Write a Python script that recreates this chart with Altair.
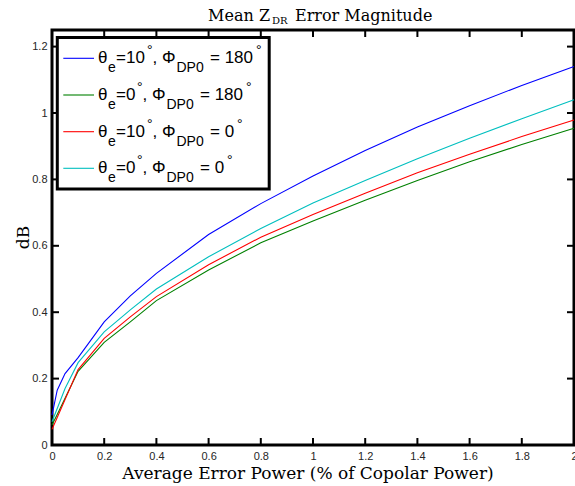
import altair as alt
import pandas as pd

# ---------------- data ----------------
x_vals = [0, 0.02, 0.05, 0.1, 0.2, 0.3, 0.4, 0.6, 0.8, 1.0, 1.2, 1.4, 1.6, 1.8, 2.0]
blue_vals = [0.090, 0.165, 0.215, 0.263, 0.371, 0.449, 0.517, 0.634, 0.727, 0.810, 0.887, 0.958, 1.022, 1.083, 1.140]
green_vals = [0.060, 0.092, 0.141, 0.222, 0.309, 0.371, 0.435, 0.527, 0.609, 0.675, 0.737, 0.797, 0.853, 0.905, 0.954]
red_vals = [0.047, 0.083, 0.137, 0.227, 0.321, 0.386, 0.447, 0.543, 0.626, 0.694, 0.758, 0.820, 0.876, 0.929, 0.979]
cyan_vals = [0.070, 0.110, 0.170, 0.248, 0.341, 0.407, 0.470, 0.567, 0.652, 0.729, 0.797, 0.862, 0.924, 0.983, 1.040]

series_names = ["te10_p180", "te0_p180", "te10_p0", "te0_p0"]
series_colors = ["#0000ff", "#008000", "#ff0000", "#00bfbf"]
series_values = [blue_vals, green_vals, red_vals, cyan_vals]

x_ticks = [0, 0.2, 0.4, 0.6, 0.8, 1.0, 1.2, 1.4, 1.6, 1.8, 2.0]
y_ticks = [0, 0.2, 0.4, 0.6, 0.8, 1.0, 1.2]

# legend texts: (theta value, phi value)
legend_theta = ["=10", "=0", "=10", "=0"]
legend_phi = ["= 180", "= 180", "= 0", "= 0"]

title_main = "Mean Z"
title_sub = "DR"
title_rest = "Error Magnitude"
x_title = "Average Error Power (% of Copolar Power)"
y_title = "dB"

# ---------------- layout ----------------
W, H = 522, 415
PL, PT = 52, 30
SANS = "Liberation Sans"
SERIF = "DejaVu Serif"

rows = []
for name, vals in zip(series_names, series_values):
    for xv, yv in zip(x_vals, vals):
        rows.append({"x": xv, "y": yv, "s": name})
df = pd.DataFrame(rows)

xs = alt.Scale(domain=[0, 2], nice=False, zero=False)
ys = alt.Scale(domain=[0, 1.25], nice=False, zero=False)

ax_common = dict(format="~g", title=None, domain=False, ticks=False, tickSize=0, grid=False,
                 labelPadding=5, labelFont=SANS, labelFontSize=11, labelColor="#262626",
                 labelFlush=False, labelOverlap=False)
axX = alt.Axis(values=x_ticks, **ax_common)
axY = alt.Axis(values=y_ticks, **ax_common)

lines = alt.Chart(df).mark_line(strokeWidth=1.1).encode(
    x=alt.X("x:Q", scale=xs, axis=axX),
    y=alt.Y("y:Q", scale=ys, axis=axY),
    color=alt.Color("s:N", scale=alt.Scale(domain=series_names, range=series_colors), legend=None),
    detail="s:N",
    order=alt.Order("x:Q"),
)

xt = pd.DataFrame({"t": x_ticks})
yt = pd.DataFrame({"t": y_ticks})
TL = 7
tick_layers = [
    alt.Chart(xt).mark_rule(color="black", strokeWidth=2).encode(
        x=alt.X("t:Q", scale=xs, axis=axX), y=alt.value(H), y2=alt.value(H - TL)),
    alt.Chart(xt).mark_rule(color="black", strokeWidth=2).encode(
        x=alt.X("t:Q", scale=xs, axis=axX), y=alt.value(0), y2=alt.value(TL)),
    alt.Chart(yt).mark_rule(color="black", strokeWidth=2).encode(
        y=alt.Y("t:Q", scale=ys, axis=axY), x=alt.value(0), x2=alt.value(TL)),
    alt.Chart(yt).mark_rule(color="black", strokeWidth=2).encode(
        y=alt.Y("t:Q", scale=ys, axis=axY), x=alt.value(W), x2=alt.value(W - TL)),
]

one = pd.DataFrame({"a": [0]})

def txt(text, x, y, size, font=SANS, align="left", angle=0, color="black"):
    kw = dict(font=font, fontSize=size, align=align, baseline="alphabetic", color=color)
    if angle:
        kw["angle"] = angle
    return alt.Chart(one).mark_text(**kw).encode(
        x=alt.value(x - PL), y=alt.value(y - PT), text=alt.value(text))

# legend box
legend_layers = [
    alt.Chart(one).mark_rect(fill="white", stroke="black", strokeWidth=3).encode(
        x=alt.value(57.3 - PL), x2=alt.value(269.2 - PL),
        y=alt.value(37.5 - PT), y2=alt.value(189 - PT))
]
baselines = [63.3, 100.0, 136.7, 173.3]
for i in range(4):
    b = baselines[i]
    legend_layers.append(
        alt.Chart(one).mark_rule(color=series_colors[i], strokeWidth=1.1).encode(
            x=alt.value(63.3 - PL), x2=alt.value(94 - PL), y=alt.value(b - 5 - PT)))
    long_theta = legend_theta[i] == "=10"
    off = 0 if long_theta else -10
    legend_layers += [
        txt("θ", 98, b, 17),
        txt("e", 108, b + 9, 14),
        txt(legend_theta[i], 116, b, 17),
        txt("°", 147 + off, b - 8, 14),
        txt(",", 152.5 + off, b, 17),
        txt("Φ", 162 + off, b, 17),
        txt("DP0", 176.5 + off, b + 9, 14),
        txt(legend_phi[i], 210 + off, b, 17),
    ]
    deg_x = (256 if legend_phi[i] == "= 180" else 237) + off
    legend_layers.append(txt("°", deg_x, b - 8, 14))

title_layers = [
    txt(title_main, 270, 20.7, 16, font=SERIF, align="right"),
    txt(title_sub, 272, 24, 10, font=SERIF),
    txt(title_rest, 295, 20.7, 16, font=SERIF),
    txt(x_title, 308, 479.3, 17, font=SERIF, align="center"),
    txt(y_title, 28.5, 237.5, 17, font=SERIF, align="center", angle=270),
]

chart = alt.layer(lines, *tick_layers, *legend_layers, *title_layers).properties(
    width=W, height=H,
    autosize=alt.AutoSizeParams(type="none"),
    padding={"left": PL, "top": PT, "right": 1, "bottom": 41},
    background="white",
).configure_view(stroke="black", strokeWidth=3)

chart.save("out.html", embed_options={"renderer": "svg", "actions": False})
